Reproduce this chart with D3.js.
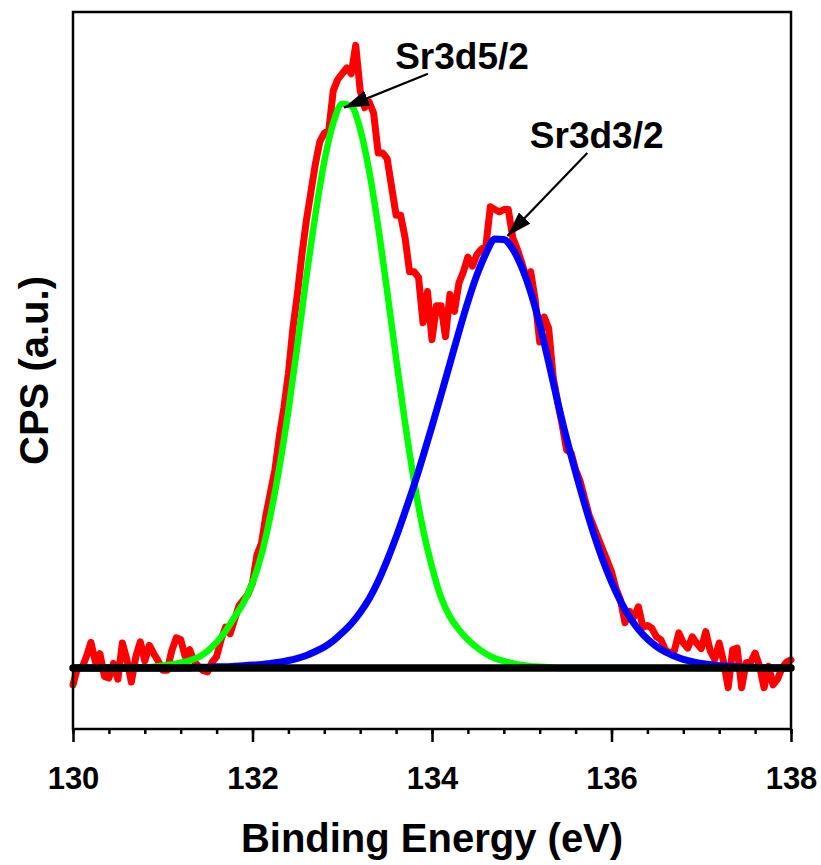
<!DOCTYPE html>
<html>
<head>
<meta charset="utf-8">
<script src="https://cdn.jsdelivr.net/npm/d3@7"></script>
<style>
  body { margin: 0; background: #fff; }
  svg { display: block; }
  text { font-family: "Liberation Sans", Arial, sans-serif; font-weight: bold; fill: #000; }
</style>
</head>
<body>
<div id="chart"></div>
<script>
// Measured Sr 3d spectrum, 130.00 -> 138.00 eV, step 0.05 eV (normalized CPS)
const measuredStart = 130, measuredStep = 0.05;
const measuredCps = [
  -0.03, 0.00, 0.00, 0.02, 0.045, 0.01, 0.025, -0.015, -0.018, 0.008, -0.02, 0.044, 0.015, -0.025, 0.02, 0.046, 0.012, 0.04, 0.025, 0.012,
  -0.004, -0.004, 0.03, 0.053, 0.05, 0.02, 0.032, 0.012, 0.002, -0.005, -0.007, 0.01, 0.02, 0.05, 0.072, 0.06, 0.085, 0.11, 0.12, 0.13,
  0.15, 0.2, 0.22, 0.27, 0.31, 0.35, 0.41, 0.46, 0.52, 0.60, 0.66, 0.73, 0.79, 0.84, 0.89, 0.93, 0.945, 0.95, 1.02, 1.04,
  1.05, 1.06, 1.05, 1.10, 1.02, 0.99, 1.00, 0.98, 0.91, 0.91, 0.90, 0.85, 0.80, 0.80, 0.76, 0.70, 0.70, 0.69, 0.61, 0.665,
  0.58, 0.64, 0.64, 0.585, 0.66, 0.63, 0.68, 0.70, 0.726, 0.71, 0.73, 0.74, 0.745, 0.815, 0.81, 0.806, 0.81, 0.81, 0.76, 0.74,
  0.716, 0.69, 0.70, 0.65, 0.576, 0.62, 0.60, 0.514, 0.47, 0.43, 0.385, 0.38, 0.35, 0.33, 0.30, 0.27, 0.25, 0.23, 0.21, 0.19,
  0.17, 0.14, 0.12, 0.08, 0.10, 0.09, 0.108, 0.072, 0.075, 0.07, 0.055, 0.05, 0.032, 0.026, 0.03, 0.062, 0.044, 0.035, 0.055, 0.043,
  0.034, 0.064, 0.03, 0.015, 0.044, 0.01, -0.035, 0.032, 0.035, -0.035, 0.009, 0.01, 0.026, 0.003, -0.035, 0.003, -0.03, -0.02, 0.0, 0.01,
  0.014
];

// Fitted components, 130.0 -> 138.0 eV, step 0.1 eV
const fitStart = 130, fitStep = 0.1;
const sr3d52Fit = [
  0, 0, 0, 0, 0, 0, 0, 0.001, 0.001, 0.002,
  0.004, 0.006, 0.009, 0.013, 0.019, 0.030, 0.045, 0.065, 0.090, 0.115,
  0.15, 0.20, 0.27, 0.355, 0.455, 0.57, 0.69, 0.80, 0.895, 0.963,
  0.997, 0.993, 0.952, 0.878, 0.78, 0.666, 0.547, 0.433, 0.33, 0.245,
  0.178, 0.125, 0.09, 0.068, 0.05, 0.036, 0.025, 0.017, 0.012, 0.008,
  0.005, 0.003, 0.002, 0.001, 0, 0, 0, 0, 0, 0,
  0, 0, 0, 0, 0, 0, 0, 0, 0, 0,
  0, 0, 0, 0, 0, 0, 0, 0, 0, 0,
  0
];
const sr3d32Fit = [
  0, 0, 0, 0, 0, 0, 0, 0, 0, 0,
  0, 0, 0, 0, 0.001, 0.001, 0.002, 0.002, 0.003, 0.004,
  0.005, 0.006, 0.008, 0.010, 0.013, 0.017, 0.022, 0.029, 0.037, 0.048,
  0.062, 0.078, 0.098, 0.122, 0.153, 0.19, 0.231, 0.276, 0.323, 0.374,
  0.427, 0.482, 0.538, 0.594, 0.647, 0.694, 0.732, 0.758, 0.757, 0.74,
  0.708, 0.664, 0.607, 0.54, 0.47, 0.405, 0.346, 0.29, 0.238, 0.192,
  0.152, 0.118, 0.09, 0.068, 0.051, 0.038, 0.028, 0.021, 0.015, 0.011,
  0.008, 0.006, 0.004, 0.003, 0.002, 0.001, 0.001, 0, 0, 0,
  0
];

// Background line
const backgroundEnergy = [130, 138];
const backgroundCps = [0, 0];

const xTickValues = [130, 132, 134, 136, 138];
const xMinorStep = 0.4;

const peakLabels = ["Sr3d5/2", "Sr3d3/2"];
// label anchor, arrow tail and arrow tip in data units
const peakLabelPos = [
  { x: 133.59, y: 1.058, tail: [133.955, 1.05], tip: [133.02, 0.99] },
  { x: 135.09, y: 0.919, tail: [135.73, 0.91], tip: [134.84, 0.763] }
];

const width = 821, height = 865;
const margin = { top: 12, right: 30, bottom: 136, left: 73 };
const plotW = width - margin.left - margin.right;
const plotH = height - margin.top - margin.bottom;

const svg = d3.select("#chart").append("svg")
  .attr("width", width)
  .attr("height", height);

const defs = svg.append("defs");
defs.append("marker")
  .attr("id", "arrowhead")
  .attr("viewBox", "0 0 25 16")
  .attr("refX", 25)
  .attr("refY", 8)
  .attr("markerWidth", 25)
  .attr("markerHeight", 16)
  .attr("markerUnits", "userSpaceOnUse")
  .attr("orient", "auto")
  .append("path")
  .attr("d", "M0,0 L25,8 L0,16 Z")
  .attr("fill", "#000");

defs.append("clipPath").attr("id", "plot-clip")
  .append("rect").attr("x", -6).attr("y", 0).attr("width", plotW + 12).attr("height", plotH);

const g = svg.append("g").attr("transform", `translate(${margin.left},${margin.top})`);

const x = d3.scaleLinear().domain([130, 138]).range([0, plotW]);
const y = d3.scaleLinear().domain([-0.108, 1.159]).range([plotH, 0]);

const measuredData = measuredCps.map((v, i) => ({ e: measuredStart + i * measuredStep, v }));
const fit52Data = sr3d52Fit.map((v, i) => ({ e: fitStart + i * fitStep, v }));
const fit32Data = sr3d32Fit.map((v, i) => ({ e: fitStart + i * fitStep, v }));
const backgroundData = backgroundEnergy.map((e, i) => ({ e, v: backgroundCps[i] }));

const line = d3.line().x(d => x(d.e)).y(d => y(d.v));
const smooth = d3.line().x(d => x(d.e)).y(d => y(d.v)).curve(d3.curveMonotoneX);

const plot = g.append("g").attr("clip-path", "url(#plot-clip)");

plot.append("path")
  .datum(measuredData)
  .attr("d", line)
  .attr("fill", "none")
  .attr("stroke", "#ff0000")
  .attr("stroke-width", 7)
  .attr("stroke-linejoin", "round")
  .attr("stroke-linecap", "round");

plot.append("path")
  .datum(fit52Data)
  .attr("d", smooth)
  .attr("fill", "none")
  .attr("stroke", "#00ff00")
  .attr("stroke-width", 6.5);

plot.append("path")
  .datum(fit32Data)
  .attr("d", smooth)
  .attr("fill", "none")
  .attr("stroke", "#0000ff")
  .attr("stroke-width", 7);

g.append("path")
  .datum(backgroundData)
  .attr("d", line)
  .attr("fill", "none")
  .attr("stroke", "#000")
  .attr("stroke-width", 7.5)
  .attr("stroke-linecap", "round");

// frame
g.append("rect")
  .attr("width", plotW)
  .attr("height", plotH)
  .attr("fill", "none")
  .attr("stroke", "#000")
  .attr("stroke-width", 2.5);

// x axis ticks
const minorTicks = d3.range(130, 138.001, xMinorStep);
g.append("g")
  .attr("transform", `translate(0,${plotH})`)
  .call(d3.axisBottom(x).tickValues(minorTicks).tickSize(5).tickFormat(""))
  .call(a => a.select(".domain").remove())
  .selectAll("line").attr("stroke", "#000").attr("stroke-width", 2.5);

const xAxis = g.append("g")
  .attr("transform", `translate(0,${plotH})`)
  .call(d3.axisBottom(x).tickValues(xTickValues).tickSize(13).tickPadding(25).tickFormat(d3.format("d")));
xAxis.select(".domain").remove();
xAxis.selectAll("line").attr("stroke", "#000").attr("stroke-width", 2.5);
xAxis.selectAll("text")
  .attr("fill", "#000")
  .style("font-size", "31px")
  .style("font-family", "'Liberation Sans', Arial, sans-serif")
  .style("font-weight", "bold");

// axis titles
g.append("text")
  .attr("x", plotW / 2)
  .attr("y", plotH + 123)
  .attr("text-anchor", "middle")
  .style("font-size", "40px")
  .text("Binding Energy (eV)");

g.append("text")
  .attr("transform", `translate(${-25},${plotH / 2}) rotate(-90)`)
  .attr("text-anchor", "middle")
  .style("font-size", "40px")
  .text("CPS (a.u.)");

// peak labels with arrows
peakLabels.forEach((label, i) => {
  const p = peakLabelPos[i];
  g.append("text")
    .attr("x", x(p.x))
    .attr("y", y(p.y))
    .style("font-size", "37px")
    .text(label);
  g.append("line")
    .attr("x1", x(p.tail[0])).attr("y1", y(p.tail[1]))
    .attr("x2", x(p.tip[0])).attr("y2", y(p.tip[1]))
    .attr("stroke", "#000")
    .attr("stroke-width", 2.2)
    .attr("marker-end", "url(#arrowhead)");
});
</script>
</body>
</html>
